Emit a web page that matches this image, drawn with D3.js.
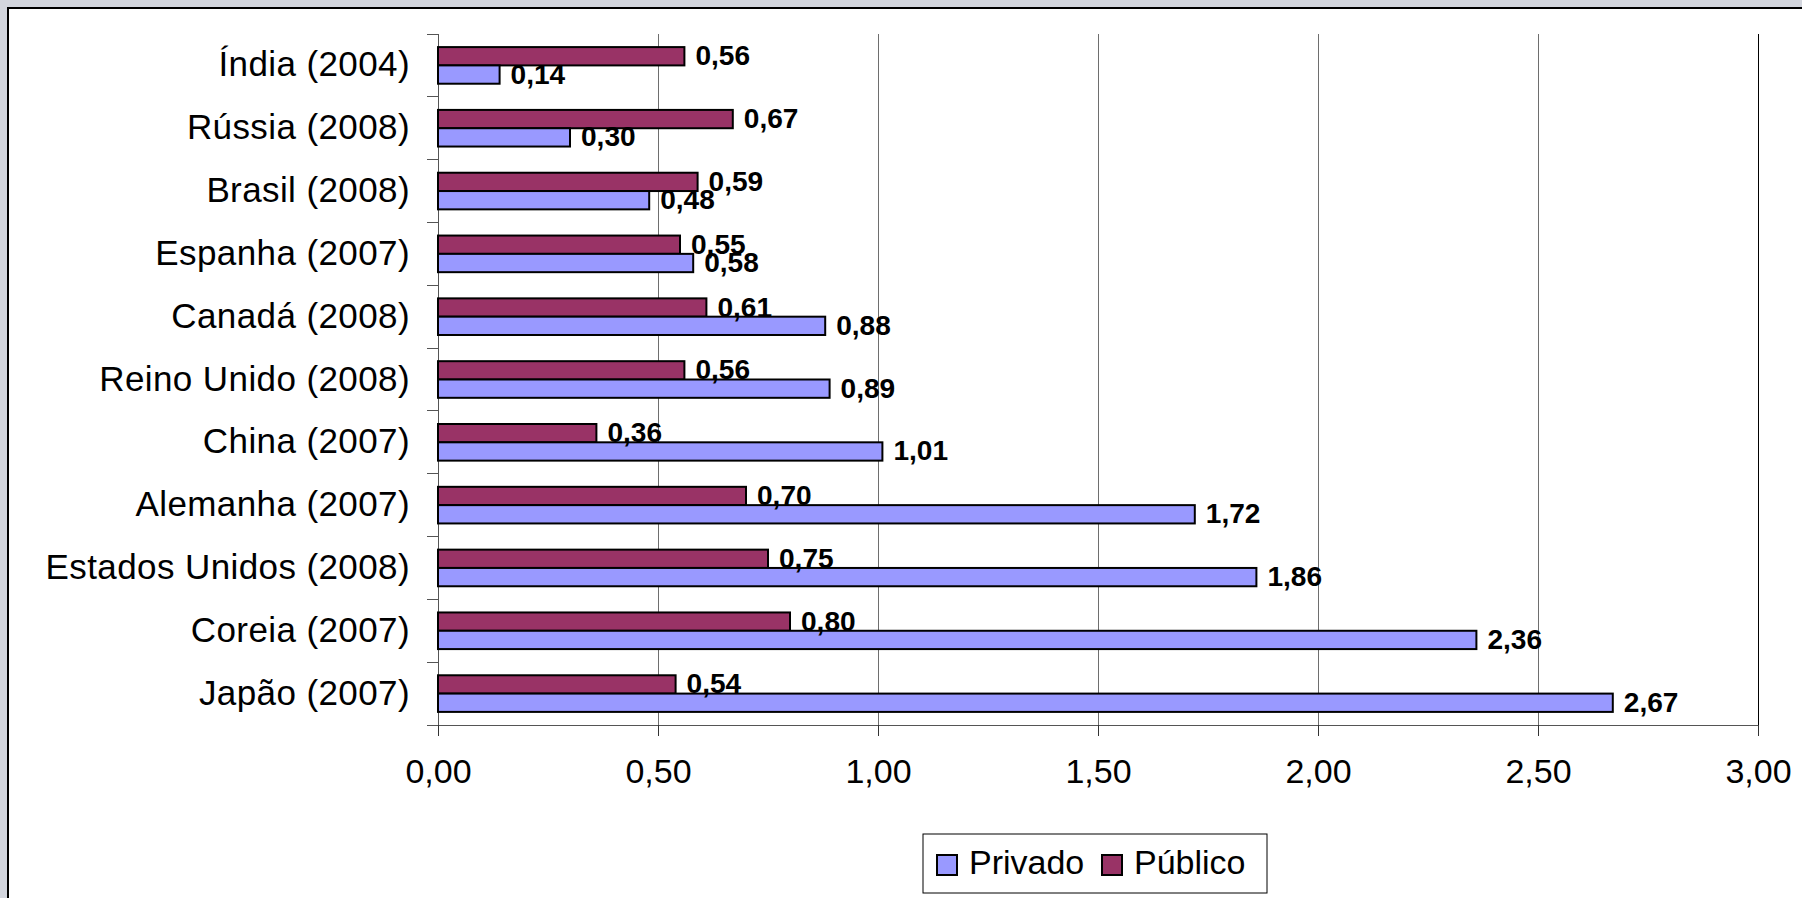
<!DOCTYPE html>
<html>
<head>
<meta charset="utf-8">
<script src="https://cdn.jsdelivr.net/npm/d3@7"></script>
<style>
  html, body { margin: 0; padding: 0; background: #d3d6de; }
  svg { display: block; }
  text { font-family: "Liberation Sans", Arial, sans-serif; fill: #000; }
</style>
</head>
<body>
<svg id="chart" width="1802" height="898"></svg>
<script>
// Gasto em P&D por setor (% do PIB)
const categories = [
  "Índia (2004)", "Rússia (2008)", "Brasil (2008)", "Espanha (2007)",
  "Canadá (2008)", "Reino Unido (2008)", "China (2007)", "Alemanha (2007)",
  "Estados Unidos (2008)", "Coreia (2007)", "Japão (2007)"
];
const privado = [0.14, 0.30, 0.48, 0.58, 0.88, 0.89, 1.01, 1.72, 1.86, 2.36, 2.67];
const publico = [0.56, 0.67, 0.59, 0.55, 0.61, 0.56, 0.36, 0.70, 0.75, 0.80, 0.54];
const seriesNames = ["Público", "Privado"];        // top-to-bottom order inside a group
const legendNames = ["Privado", "Público"];
const xTicks = [0, 0.5, 1, 1.5, 2, 2.5, 3];

const colors = { "Privado": "#9999ff", "Público": "#993366" };
const values = { "Privado": privado, "Público": publico };

const svg = d3.select("#chart");
const W = 1802, H = 898;

// grey backdrop and white chart panel
svg.append("rect").attr("width", W).attr("height", H).attr("fill", "#d3d6de");
svg.append("rect").attr("x", 8).attr("y", 8).attr("width", W + 10).attr("height", H + 10)
  .attr("fill", "#fff").attr("stroke", "#000").attr("stroke-width", 2);

const plot = { left: 438, right: 1758, top: 34, bottom: 725 };

const x = d3.scaleLinear().domain([0, 3]).range([plot.left, plot.right]);
const y = d3.scaleBand().domain(categories).range([plot.top, plot.bottom]);
const groupH = y.bandwidth() * 0.583;
const inner = d3.scaleBand().domain(seriesNames)
  .range([(y.bandwidth() - groupH) / 2, (y.bandwidth() + groupH) / 2]);

const fmt = v => d3.format(".2f")(v).replace(".", ",");

// vertical gridlines
svg.append("g").selectAll("line").data(xTicks.filter(t => t > 0)).join("line")
  .attr("x1", d => x(d)).attr("x2", d => x(d))
  .attr("y1", plot.top).attr("y2", plot.bottom)
  .attr("stroke", d => d === 3 ? "#000" : "#6e6e6e").attr("stroke-width", 1)
  .attr("shape-rendering", "crispEdges");

// bottom axis
const xAxis = d3.axisBottom(x).tickValues(xTicks).tickFormat(fmt).tickSize(11).tickSizeOuter(0).tickPadding(26);
const gx = svg.append("g").attr("transform", `translate(0,${plot.bottom})`).call(xAxis);
gx.select(".domain").attr("stroke", "#555").attr("shape-rendering", "crispEdges");
gx.selectAll(".tick line").attr("stroke", "#333").attr("shape-rendering", "crispEdges");
gx.selectAll(".tick text").attr("font-size", 34).attr("font-family", "Liberation Sans, Arial, sans-serif")
  .attr("fill", "#000").attr("dy", "0.71em").attr("y", 34);

// left axis: ticks sit on band boundaries
const gy = svg.append("g").attr("transform", `translate(${plot.left},0)`);
gy.append("line").attr("x1", 0).attr("x2", 0).attr("y1", plot.top).attr("y2", plot.bottom)
  .attr("stroke", "#555").attr("shape-rendering", "crispEdges");
const bounds = categories.map(c => y(c)).concat([plot.bottom]);
gy.selectAll("line.tk").data(bounds).join("line").attr("class", "tk")
  .attr("x1", -11).attr("x2", 0).attr("y1", d => d).attr("y2", d => d)
  .attr("stroke", "#555").attr("shape-rendering", "crispEdges");
gy.selectAll("text").data(categories).join("text")
  .attr("x", -28).attr("y", d => y(d) + y.bandwidth() / 2 + 11)
  .attr("text-anchor", "end").attr("font-size", 35).attr("letter-spacing", "0.4px")
  .text(d => d);

// bars
const rows = categories.map((c, i) => ({ c, i }));
const groups = svg.append("g").selectAll("g").data(rows).join("g")
  .attr("transform", d => `translate(0,${y(d.c)})`);

seriesNames.forEach(s => {
  groups.append("rect")
    .attr("x", x(0))
    .attr("y", inner(s))
    .attr("width", d => x(values[s][d.i]) - x(0))
    .attr("height", inner.bandwidth())
    .attr("fill", colors[s])
    .attr("stroke", "#000").attr("stroke-width", 2);
});

// value labels
seriesNames.forEach(s => {
  groups.append("text")
    .attr("transform", d => `translate(${x(values[s][d.i]) + 11},${inner(s) + inner.bandwidth() / 2 + 9}) scale(1.04,1)`)
    .attr("font-size", 27).attr("font-weight", "bold")
    .text(d => fmt(values[s][d.i]));
});

// legend
const lg = svg.append("g");
const lgBox = { x: 923, y: 834, w: 344, h: 59 };
lg.append("rect").attr("x", lgBox.x).attr("y", lgBox.y).attr("width", lgBox.w).attr("height", lgBox.h)
  .attr("fill", "#fff").attr("stroke", "#000").attr("stroke-width", 1);
const itemX = [lgBox.x + 14, lgBox.x + 179];
legendNames.forEach((s, i) => {
  lg.append("rect").attr("x", itemX[i]).attr("y", lgBox.y + 21).attr("width", 20).attr("height", 20)
    .attr("fill", colors[s]).attr("stroke", "#000").attr("stroke-width", 2);
  lg.append("text").attr("x", itemX[i] + 32).attr("y", lgBox.y + 40)
    .attr("font-size", 34).text(s);
});
</script>
</body>
</html>
